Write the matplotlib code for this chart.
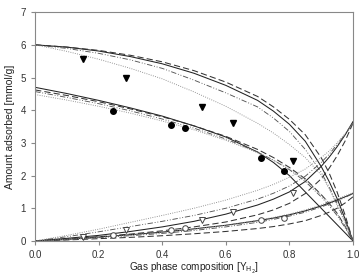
import numpy as np
import matplotlib
matplotlib.use('Agg')
import matplotlib.pyplot as plt

plt.rcParams['font.family'] = ['Liberation Sans', 'DejaVu Sans']

# x grid for model curves
x_model = [0, .1, .2, .3, .4, .5, .6, .7, .75, .8, .85, .9, .925, .95, .975, 1.0]

# downward curves, upper group (starts at 6)
top_solid = [6.0, 5.93, 5.81, 5.64, 5.42, 5.13, 4.76, 4.3, 3.97, 3.57, 3.05, 2.28, 1.82, 1.3, 0.68, 0]
top_dashed = [6.0, 5.93, 5.83, 5.68, 5.48, 5.21, 4.86, 4.42, 4.1, 3.72, 3.25, 2.55, 2.08, 1.5, 0.8, 0]
top_dashdot = [6.0, 5.89, 5.74, 5.54, 5.28, 4.92, 4.53, 4.1, 3.76, 3.35, 2.8, 2.1, 1.65, 1.15, 0.6, 0]
top_dotted = [6.0, 5.8, 5.56, 5.28, 4.96, 4.56, 4.12, 3.6, 3.3, 2.95, 2.55, 2.02, 1.6, 1.1, 0.57, 0]

# downward curves, middle group (starts near 4.6)
mid_solid = [4.7, 4.51, 4.3, 4.07, 3.82, 3.52, 3.18, 2.72, 2.4, 2.0, 1.5, 1.0, 0.75, 0.5, 0.25, 0]
mid_dashed = [4.62, 4.45, 4.26, 4.04, 3.8, 3.52, 3.2, 2.8, 2.55, 2.25, 1.9, 1.42, 1.15, 0.85, 0.45, 0]
mid_dashdot = [4.57, 4.39, 4.2, 3.98, 3.73, 3.45, 3.12, 2.72, 2.47, 2.18, 1.82, 1.35, 1.08, 0.78, 0.41, 0]
mid_dotted = [4.48, 4.31, 4.12, 3.91, 3.67, 3.4, 3.08, 2.7, 2.47, 2.2, 1.87, 1.42, 1.15, 0.85, 0.44, 0]

# upward curves, high group
up_hi_solid = [0, 0.08, 0.17, 0.29, 0.43, 0.6, 0.82, 1.1, 1.28, 1.5, 1.82, 2.28, 2.56, 2.88, 3.24, 3.65]
up_hi_dashed = [0, 0.06, 0.13, 0.21, 0.31, 0.43, 0.58, 0.8, 0.95, 1.15, 1.45, 1.9, 2.22, 2.6, 3.05, 3.6]
up_hi_dashdot = [0, 0.13, 0.28, 0.44, 0.6, 0.78, 1.0, 1.28, 1.46, 1.68, 1.98, 2.4, 2.65, 2.95, 3.25, 3.6]
up_hi_dotted = [0, 0.17, 0.36, 0.57, 0.78, 1.0, 1.25, 1.55, 1.73, 1.95, 2.2, 2.55, 2.75, 3.0, 3.28, 3.6]

# upward curves, low group
up_lo_solid = [0, 0.05, 0.12, 0.19, 0.27, 0.37, 0.48, 0.62, 0.7, 0.8, 0.92, 1.07, 1.16, 1.25, 1.35, 1.45]
up_lo_dashed = [0, 0.03, 0.07, 0.11, 0.16, 0.22, 0.29, 0.38, 0.44, 0.52, 0.62, 0.78, 0.88, 1.0, 1.16, 1.35]
up_lo_dashdot = [0, 0.04, 0.1, 0.16, 0.23, 0.32, 0.43, 0.57, 0.66, 0.76, 0.88, 1.04, 1.13, 1.22, 1.33, 1.45]
up_lo_dotted = [0, 0.05, 0.11, 0.18, 0.26, 0.36, 0.48, 0.63, 0.72, 0.82, 0.95, 1.1, 1.19, 1.28, 1.38, 1.48]

# experimental points
tri_x = [0.15, 0.285, 0.524, 0.624, 0.812]
tri_filled_y = [5.56, 5.0, 4.1, 3.62, 2.45]
tri_open_y = [0.12, 0.32, 0.64, 0.88, 1.48]
circ_x = [0.246, 0.427, 0.472, 0.711, 0.784]
circ_filled_y = [3.98, 3.55, 3.46, 2.55, 2.15]
circ_open_y = [0.17, 0.32, 0.4, 0.64, 0.71]

fig = plt.figure(figsize=(3.62, 2.76), dpi=100)
ax = fig.add_axes([0.097, 0.127, 0.878, 0.829])

styles = {
    'solid': dict(color='#222222', linestyle='-', lw=0.75),
    'dashed': dict(color='#333333', linestyle=(0, (6, 3)), lw=0.75),
    'dashdot': dict(color='#555555', linestyle=(0, (6, 2, 1, 2, 1, 2)), lw=0.65),
    'dotted': dict(color='#888888', linestyle=(0, (1, 1.5)), lw=0.65),
}

groups = [
    (top_solid, top_dashed, top_dashdot, top_dotted),
    (mid_solid, mid_dashed, mid_dashdot, mid_dotted),
    (up_hi_solid, up_hi_dashed, up_hi_dashdot, up_hi_dotted),
    (up_lo_solid, up_lo_dashed, up_lo_dashdot, up_lo_dotted),
]
for g in groups:
    for y, key in zip(g, ['solid', 'dashed', 'dashdot', 'dotted']):
        ax.plot(x_model, y, **styles[key])

ax.plot(tri_x, tri_filled_y, 'v', color='black', ms=4.5, ls='none')
ax.plot(circ_x, circ_filled_y, 'o', color='black', ms=4, ls='none')
ax.plot(tri_x, tri_open_y, 'v', mfc='white', mec='#444444', mew=0.7, ms=4.5, ls='none')
ax.plot(circ_x, circ_open_y, 'o', mfc='white', mec='#444444', mew=0.7, ms=4, ls='none')

ax.set_xlim(0, 1.0)
ax.set_ylim(0, 7)
ax.set_xticks([0, 0.2, 0.4, 0.6, 0.8, 1.0])
ax.set_xticklabels(['0.0', '0.2', '0.4', '0.6', '0.8', '1.0'])
ax.set_yticks(range(8))
for s in ax.spines.values():
    s.set_color('#888888')
    s.set_linewidth(0.8)
ax.tick_params(colors='#888888', labelcolor='#333333', labelsize=7, length=3, width=0.8)
ax.set_xlabel(r'Gas phase composition [Y$_{\mathrm{H_2}}$]', fontsize=7.2, color='#222222', labelpad=1)
ax.set_ylabel('Amount adsorbed [mmol/g]', fontsize=7.5, color='#222222', labelpad=4)

fig.savefig('out.png', dpi=100)
